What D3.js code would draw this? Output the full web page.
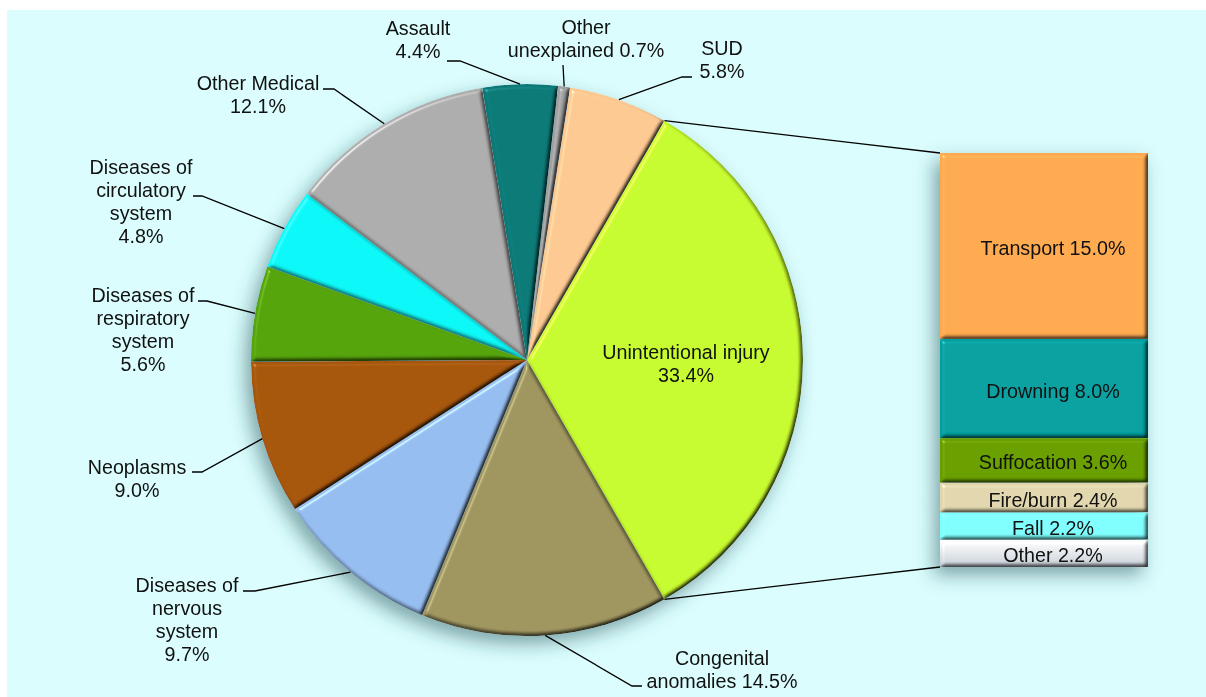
<!DOCTYPE html>
<html><head><meta charset="utf-8">
<script src="https://cdn.jsdelivr.net/npm/d3@7"></script>
<style>
html,body{margin:0;padding:0;background:#fff;}
svg{display:block;font-family:"Liberation Sans",Arial,sans-serif;}
</style></head>
<body>
<svg id="chart" width="1206" height="697"></svg>
<script>
// ---- data ----
const categories = ["Other unexplained","SUD","Unintentional injury","Congenital anomalies",
  "Diseases of nervous system","Neoplasms","Diseases of respiratory system",
  "Diseases of circulatory system","Other Medical","Assault"];
const values = [0.7, 5.8, 33.4, 14.5, 9.7, 9.0, 5.6, 4.8, 12.1, 4.4];
const labelLines = [["Other","unexplained {v}"],["SUD","{v}"],["Unintentional injury","{v}"],
  ["Congenital","anomalies {v}"],["Diseases of","nervous","system","{v}"],["Neoplasms","{v}"],
  ["Diseases of","respiratory","system","{v}"],["Diseases of","circulatory","system","{v}"],
  ["Other Medical","{v}"],["Assault","{v}"]];
const subCategories = ["Transport","Drowning","Suffocation","Fire/burn","Fall","Other"];
const subValues = [15.0, 8.0, 3.6, 2.4, 2.2, 2.2];

// ---- styles / layout ----
const pieColors = ["#a0a0a0","#fcc892","#c6fa2e","#9e955f","#95bcef","#a6560a",
  "#55a309","#0ff6f6","#acacac","#0a7977"];
const subColors = ["#fda94f","#05a0a0","#699e02","#e0d5ac","#7ffefe","url(#otherGrad)"];
const labelLayout = [
  {x:586, y:27, elbow:[563,65], end:[563,65]},
  {x:722, y:48, elbow:[682,77], end:[692,77]},
  {x:686, y:352, inside:true},
  {x:722, y:658, elbow:[632,686], end:[642,686]},
  {x:187, y:585, elbow:[255,591], end:[243,591]},
  {x:137, y:467, elbow:[202,472], end:[192,472]},
  {x:143, y:295, elbow:[207,301], end:[198,301]},
  {x:141, y:167, elbow:[202,196], end:[193,196]},
  {x:258, y:83, elbow:[334,89], end:[323,89]},
  {x:418, y:28, elbow:[460,61], end:[447,61]}
];
const cx = 527, cy = 360, R = 276;
const fontSize = 19.7, lineH = 23;
const fmt = v => d3.format(".1f")(v) + "%";

const svg = d3.select("#chart");
const defs = svg.append("defs");

// bevel filter
const bevel = defs.append("filter").attr("id","bevel")
  .attr("x","-10%").attr("y","-10%").attr("width","120%").attr("height","120%")
  .attr("color-interpolation-filters","sRGB");
bevel.append("feGaussianBlur").attr("in","SourceAlpha").attr("stdDeviation",2.2).attr("result","blur");
const dl = bevel.append("feDiffuseLighting").attr("in","blur").attr("surfaceScale",2.5)
  .attr("diffuseConstant",1.31).attr("lighting-color","#ffffff").attr("result","diff");
dl.append("feDistantLight").attr("azimuth",225).attr("elevation",50);
const sl = bevel.append("feSpecularLighting").attr("in","blur").attr("surfaceScale",2.5)
  .attr("specularConstant",0.35).attr("specularExponent",60).attr("lighting-color","#ffffff").attr("result","spec");
sl.append("feDistantLight").attr("azimuth",225).attr("elevation",50);
bevel.append("feComposite").attr("in","SourceGraphic").attr("in2","diff").attr("operator","arithmetic")
  .attr("k1",1).attr("k2",0).attr("k3",0).attr("k4",0).attr("result","shaded");
bevel.append("feComposite").attr("in","spec").attr("in2","SourceAlpha").attr("operator","in").attr("result","specIn");
bevel.append("feComposite").attr("in","shaded").attr("in2","specIn").attr("operator","arithmetic")
  .attr("k1",0).attr("k2",1).attr("k3",0.8).attr("k4",0).attr("result","lit");
bevel.append("feComposite").attr("in","lit").attr("in2","SourceAlpha").attr("operator","in");

// shadow filter
const shadow = defs.append("filter").attr("id","shadow")
  .attr("x","-20%").attr("y","-20%").attr("width","140%").attr("height","140%");
shadow.append("feDropShadow").attr("dx",-6).attr("dy",8).attr("stdDeviation",9)
  .attr("flood-color","#1e4f55").attr("flood-opacity",0.5);

// gradient for "Other"
const og = defs.append("linearGradient").attr("id","otherGrad").attr("x1",0).attr("y1",0).attr("x2",0).attr("y2",1);
og.append("stop").attr("offset","0%").attr("stop-color","#ffffff");
og.append("stop").attr("offset","100%").attr("stop-color","#c5ced6");

// background
svg.append("rect").attr("x",7).attr("y",10).attr("width",1199).attr("height",687).attr("fill","#dbfdfd");

// ---- pie ----
const total = d3.sum(values);
const offsetBefore = values[0] + values[1] + values[2] / 2;
const startA = Math.PI / 2 - offsetBefore / total * 2 * Math.PI;
const pie = d3.pie().sort(null).value(d => d).startAngle(startA).endAngle(startA + 2 * Math.PI);
const arcs = pie(values);
const arc = d3.arc().innerRadius(0).outerRadius(R);

const pieG = svg.append("g").attr("filter","url(#shadow)");
pieG.append("g").attr("transform",`translate(${cx},${cy})`)
  .selectAll("path").data(arcs).join("path")
  .attr("d", arc)
  .attr("fill", (d,i) => pieColors[i])
  .attr("filter","url(#bevel)");

// ---- bar ----
const barX = 940, barW = 208;
const subTotal = d3.sum(subValues);
const y = d3.scaleLinear().domain([0, subTotal]).range([153, 567]);
const cum = d3.cumsum(subValues);
const stack = subValues.map((v,i) => ({v, i, y0: cum[i] - v, y1: cum[i]}));
const barG = svg.append("g").attr("filter","url(#shadow)");
barG.selectAll("rect").data(stack).join("rect")
  .attr("x", barX).attr("width", barW)
  .attr("y", d => y(d.y0)).attr("height", d => y(d.y1) - y(d.y0))
  .attr("fill", d => subColors[d.i])
  .attr("filter","url(#bevel)");

// connector lines
const pt = a => [cx + R * Math.sin(a), cy - R * Math.cos(a)];
const a2 = arcs[2];
const conn = svg.append("g").attr("stroke","#000").attr("stroke-width",1.3).attr("fill","none");
conn.append("line").datum([pt(a2.startAngle), [barX, y(0)]])
  .attr("x1", d => d[0][0]).attr("y1", d => d[0][1]).attr("x2", d => d[1][0]).attr("y2", d => d[1][1]);
conn.append("line").datum([pt(a2.endAngle), [barX, y(subTotal)]])
  .attr("x1", d => d[0][0]).attr("y1", d => d[0][1]).attr("x2", d => d[1][0]).attr("y2", d => d[1][1]);

// bar labels
svg.append("g").selectAll("text").data(stack).join("text")
  .attr("x", 1053).attr("y", d => (y(d.y0) + y(d.y1)) / 2 + 2)
  .attr("text-anchor","middle").attr("dominant-baseline","central")
  .attr("font-size", fontSize).attr("fill","#111")
  .text(d => subCategories[d.i] + " " + fmt(d.v));

// pie labels + leaders
const leaders = svg.append("g").attr("stroke","#000").attr("stroke-width",1.3).attr("fill","none");
arcs.forEach((d,i) => {
  const L = labelLayout[i];
  const mid = (d.startAngle + d.endAngle) / 2;
  if (!L.inside) {
    const p = pt(mid);
    leaders.append("polyline").attr("points", [p, L.elbow, L.end].map(q => q.join(",")).join(" "));
  }
  const t = svg.append("text").attr("text-anchor","middle").attr("font-size", fontSize).attr("fill","#111");
  labelLines[i].forEach((ln, k) => {
    t.append("tspan").attr("x", L.x).attr("y", L.y + k * lineH).attr("dominant-baseline","central")
      .text(ln.replace("{v}", fmt(values[i])));
  });
});
</script>
</body></html>
